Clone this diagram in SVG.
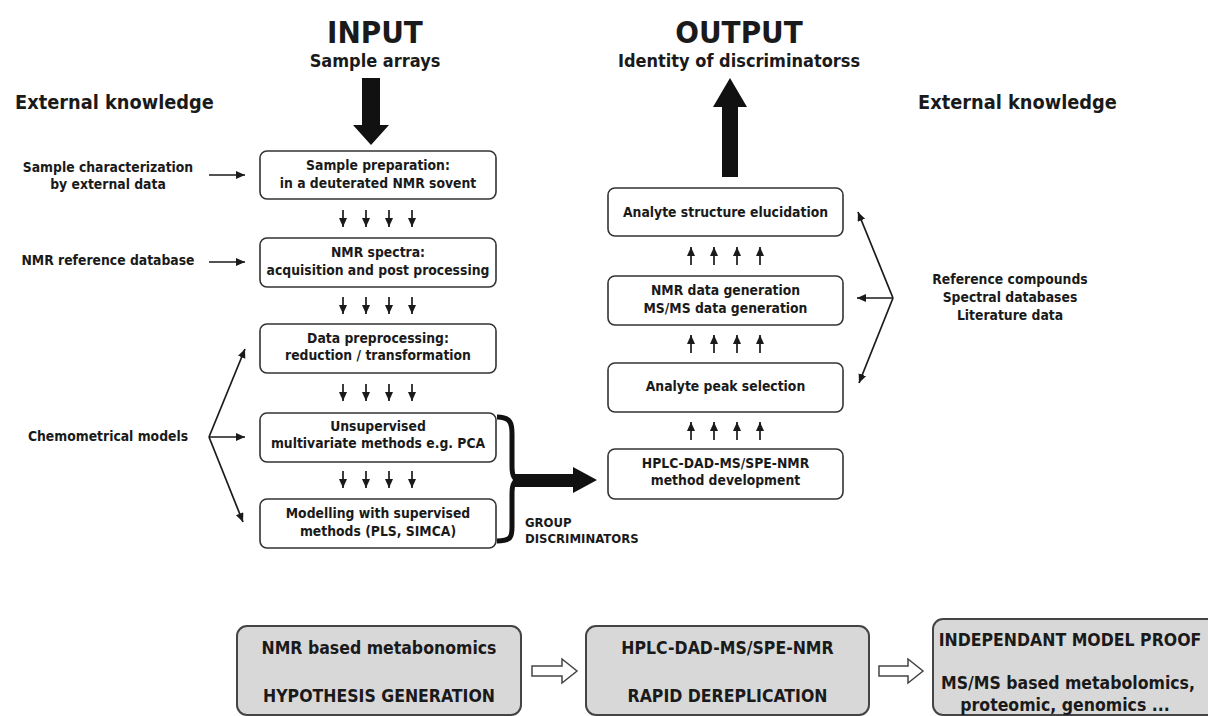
<svg xmlns="http://www.w3.org/2000/svg" width="1208" height="716" viewBox="0 0 1208 716">
<defs>
<style>
text{font-family:"DejaVu Sans Condensed","DejaVu Sans",sans-serif;font-weight:bold;fill:#1a1a1a;}
.t{font-size:13.8px;text-anchor:middle;}
.l{font-size:13px;}
.title{font-size:31px;text-anchor:middle;}
.sub{font-size:18px;text-anchor:middle;}
.ek{font-size:19.8px;}
.bt{font-size:17.5px;text-anchor:middle;}
.box{fill:#fff;stroke:#333;stroke-width:1.6;}
.gbox{fill:#d8d8d8;stroke:#444;stroke-width:2;}
.a{stroke:#1a1a1a;stroke-width:1.7;fill:none;marker-end:url(#ah);}
.hollow{fill:#fff;stroke:#444;stroke-width:1.5;}
</style>
<marker id="ah" markerUnits="userSpaceOnUse" markerWidth="10" markerHeight="10" refX="9" refY="4" orient="auto">
<path d="M0,0 L9,4 L0,8 z" fill="#1a1a1a"/>
</marker>
</defs>
<rect width="1208" height="716" fill="#fff"/>

<g id="titles">
<text class="title" x="375" y="43">INPUT</text>
<text class="sub" x="375" y="67">Sample arrays</text>
<text class="title" x="739" y="43">OUTPUT</text>
<text class="sub" x="739" y="67">Identity of discriminatorss</text>
<text class="ek" x="15" y="109">External knowledge</text>
<text class="ek" x="918" y="109">External knowledge</text>
</g>

<g id="left-labels">
<text class="t" x="108" y="172">Sample characterization</text>
<text class="t" x="108" y="189">by external data</text>
<text class="t" x="108" y="265">NMR reference database</text>
<text class="t" x="108" y="441">Chemometrical models</text>
</g>

<g id="right-labels">
<text class="t" x="1010" y="284">Reference compounds</text>
<text class="t" x="1010" y="302">Spectral databases</text>
<text class="t" x="1010" y="320">Literature data</text>
</g>

<g id="box-sample-prep">
<rect class="box" x="260" y="151" width="236" height="48" rx="7"/>
<text class="t" x="378" y="170">Sample preparation:</text>
<text class="t" x="378" y="188">in a deuterated NMR sovent</text>
</g>
<g id="box-nmr-spectra">
<rect class="box" x="260" y="238" width="236" height="49" rx="7"/>
<text class="t" x="378" y="257">NMR spectra:</text>
<text class="t" x="378" y="275">acquisition and post processing</text>
</g>
<g id="box-preprocessing">
<rect class="box" x="260" y="324" width="236" height="49" rx="7"/>
<text class="t" x="378" y="343">Data preprocessing:</text>
<text class="t" x="378" y="360">reduction / transformation</text>
</g>
<g id="box-unsupervised">
<rect class="box" x="260" y="413" width="236" height="49" rx="7"/>
<text class="t" x="378" y="431">Unsupervised</text>
<text class="t" x="378" y="448">multivariate methods e.g. PCA</text>
</g>
<g id="box-supervised">
<rect class="box" x="260" y="499" width="236" height="49" rx="7"/>
<text class="t" x="378" y="518">Modelling with supervised</text>
<text class="t" x="378" y="536">methods (PLS, SIMCA)</text>
</g>

<g id="box-structure">
<rect class="box" x="608" y="188" width="235" height="48" rx="7"/>
<text class="t" x="725.5" y="217">Analyte structure elucidation</text>
</g>
<g id="box-data-gen">
<rect class="box" x="608" y="276" width="235" height="49" rx="7"/>
<text class="t" x="725.5" y="295">NMR data generation</text>
<text class="t" x="725.5" y="313">MS/MS data generation</text>
</g>
<g id="box-peak">
<rect class="box" x="608" y="363" width="235" height="49" rx="7"/>
<text class="t" x="725.5" y="391">Analyte peak selection</text>
</g>
<g id="box-hplc">
<rect class="box" x="608" y="449" width="235" height="50" rx="7"/>
<text class="t" x="725.5" y="468">HPLC-DAD-MS/SPE-NMR</text>
<text class="t" x="725.5" y="485">method development</text>
</g>

<g id="group-label">
<text class="l" x="525" y="527">GROUP</text>
<text class="l" x="525" y="543">DISCRIMINATORS</text>
</g>

<g id="bottom-1">
<rect class="gbox" x="237" y="626" width="284" height="89" rx="10"/>
<text class="bt" x="379" y="654">NMR based metabonomics</text>
<text class="bt" x="379" y="702">HYPOTHESIS GENERATION</text>
</g>
<g id="bottom-2">
<rect class="gbox" x="586" y="626" width="283" height="89" rx="10"/>
<text class="bt" x="727.5" y="654">HPLC-DAD-MS/SPE-NMR</text>
<text class="bt" x="727.5" y="702">RAPID DEREPLICATION</text>
</g>
<g id="bottom-3">
<rect class="gbox" x="933" y="619" width="300" height="96" rx="10"/>
<text class="bt" x="1070" y="646">INDEPENDANT MODEL PROOF</text>
<text class="bt" x="1068" y="689">MS/MS based metabolomics,</text>
<text class="bt" x="1065" y="711">proteomic, genomics ...</text>
</g>

<g id="connectors">
<polygon points="362,78 380,78 380,125 389,125 371,145 353,125 362,125" fill="#111"/>
<polygon points="722,177 738,177 738,107 747,107 730,78 713,107 722,107" fill="#111"/>
<path d="M497,417 C511,417 512,424 512,434 L512,466 C512,476 514,480 519,480 C514,480 512,484 512,494 L512,527 C512,537 511,541 497,541" fill="none" stroke="#111" stroke-width="5"/>
<polygon points="515,474 573,474 573,467 597,480 573,493 573,487 515,487" fill="#111"/>
<polygon class="hollow" points="532,666 562,666 562,659 577,671 562,683 562,676 532,676"/>
<polygon class="hollow" points="879,666 908,666 908,659 923,671 908,683 908,676 879,676"/>

<line class="a" x1="209" y1="175" x2="245" y2="175"/>
<line class="a" x1="209" y1="262" x2="245" y2="262"/>
<line class="a" x1="209" y1="437" x2="245" y2="349"/>
<line class="a" x1="209" y1="437" x2="245" y2="437"/>
<line class="a" x1="209" y1="437" x2="243" y2="522"/>

<line class="a" x1="893" y1="298" x2="858" y2="212"/>
<line class="a" x1="893" y1="298" x2="857" y2="298"/>
<line class="a" x1="893" y1="298" x2="859" y2="383"/>

<g id="down-arrows">
<line class="a" x1="343" y1="210" x2="343" y2="227"/>
<line class="a" x1="366" y1="210" x2="366" y2="227"/>
<line class="a" x1="389" y1="210" x2="389" y2="227"/>
<line class="a" x1="412" y1="210" x2="412" y2="227"/>
<line class="a" x1="343" y1="297" x2="343" y2="314"/>
<line class="a" x1="366" y1="297" x2="366" y2="314"/>
<line class="a" x1="389" y1="297" x2="389" y2="314"/>
<line class="a" x1="412" y1="297" x2="412" y2="314"/>
<line class="a" x1="343" y1="384" x2="343" y2="401"/>
<line class="a" x1="366" y1="384" x2="366" y2="401"/>
<line class="a" x1="389" y1="384" x2="389" y2="401"/>
<line class="a" x1="412" y1="384" x2="412" y2="401"/>
<line class="a" x1="343" y1="471" x2="343" y2="488"/>
<line class="a" x1="366" y1="471" x2="366" y2="488"/>
<line class="a" x1="389" y1="471" x2="389" y2="488"/>
<line class="a" x1="412" y1="471" x2="412" y2="488"/>
</g>
<g id="up-arrows">
<line class="a" x1="691" y1="265" x2="691" y2="247"/>
<line class="a" x1="714" y1="265" x2="714" y2="247"/>
<line class="a" x1="737" y1="265" x2="737" y2="247"/>
<line class="a" x1="760" y1="265" x2="760" y2="247"/>
<line class="a" x1="691" y1="353" x2="691" y2="335"/>
<line class="a" x1="714" y1="353" x2="714" y2="335"/>
<line class="a" x1="737" y1="353" x2="737" y2="335"/>
<line class="a" x1="760" y1="353" x2="760" y2="335"/>
<line class="a" x1="691" y1="440" x2="691" y2="422"/>
<line class="a" x1="714" y1="440" x2="714" y2="422"/>
<line class="a" x1="737" y1="440" x2="737" y2="422"/>
<line class="a" x1="760" y1="440" x2="760" y2="422"/>
</g>
</g>
</svg>
